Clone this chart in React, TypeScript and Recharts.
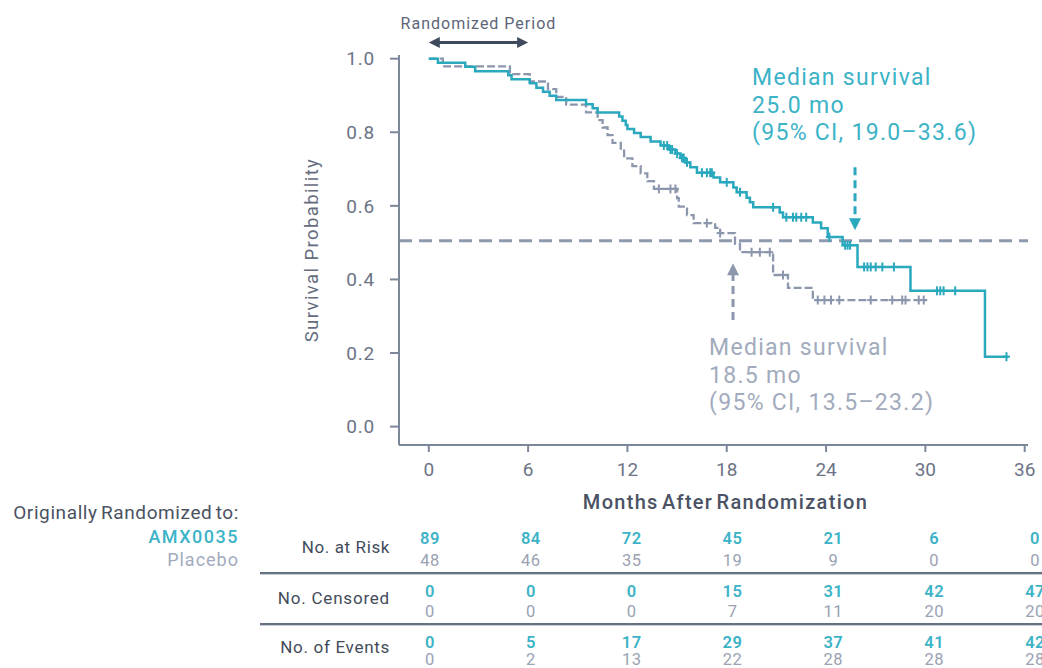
import React from 'react';
import { ComposedChart, Line, Scatter, XAxis, YAxis, ReferenceLine } from 'recharts';

// ---------- data ----------
const monthTicks = [0, 6, 12, 18, 24, 30, 36];
const survivalTicks = [0, 0.2, 0.4, 0.6, 0.8, 1.0];

// Kaplan-Meier steps [month, survival]
const amxSteps: [number, number][] = [
  [0, 1.0], [0.55, 0.989], [2.2, 0.978], [2.8, 0.966], [4.8, 0.955], [5.0, 0.944],
  [6.1, 0.933], [6.5, 0.921], [6.9, 0.91], [7.3, 0.899], [7.7, 0.888], [9.5, 0.876],
  [9.9, 0.865], [10.2, 0.854], [11.5, 0.843], [11.7, 0.831], [11.9, 0.82], [12.0, 0.809],
  [12.4, 0.798], [12.8, 0.787], [13.4, 0.775], [14.0, 0.764], [14.5, 0.753], [14.9, 0.742],
  [15.2, 0.73], [15.5, 0.718], [15.8, 0.705], [16.2, 0.69], [17.2, 0.677], [17.6, 0.664],
  [18.4, 0.65], [18.6, 0.637], [19.2, 0.622], [19.4, 0.61], [19.6, 0.596], [21.2, 0.582],
  [21.4, 0.569], [23.2, 0.555], [23.7, 0.539], [24.1, 0.515], [25.0, 0.493], [25.9, 0.434],
  [29.1, 0.369], [33.6, 0.19], [35.0, 0.19],
];
const placeboSteps: [number, number][] = [
  [0, 1.0], [0.85, 0.979], [4.9, 0.958], [6.1, 0.938], [7.2, 0.917], [7.7, 0.896],
  [8.3, 0.875], [9.5, 0.854], [10.2, 0.833], [10.5, 0.813], [10.8, 0.792], [11.1, 0.771],
  [11.6, 0.75], [11.8, 0.729], [12.3, 0.708], [12.8, 0.688], [13.2, 0.667], [13.6, 0.646],
  [15.0, 0.621], [15.1, 0.598], [15.6, 0.575], [16.0, 0.553], [17.3, 0.54], [17.6, 0.526],
  [18.5, 0.497], [18.8, 0.474], [20.8, 0.412], [21.7, 0.377], [23.2, 0.344], [30.1, 0.344],
];
// censoring times (months)
const amxCensored = [
  14.2, 14.4, 14.6, 14.7, 15.0, 15.3, 15.4, 15.6, 16.5, 16.8, 17.0, 17.1, 18.0, 18.8,
  20.8, 21.6, 22.0, 22.2, 22.5, 22.8, 24.2, 25.15, 25.3, 25.45, 26.3, 26.5, 26.7, 27.0,
  27.4, 28.1, 30.7, 30.9, 31.1, 31.8, 34.9,
];
const placeboCensored = [
  13.9, 14.6, 14.9, 16.8, 17.6, 19.5, 20.0, 20.6, 21.4, 23.5, 23.9, 24.3, 24.8, 26.7,
  28.0, 28.6, 28.8, 29.6, 29.9,
];

const medianLevel = 0.505;
const amxMedianArrowMonth = 25.75;
const placeboMedianArrowMonth = 18.38;

// table
const atRiskAmx = [89, 84, 72, 45, 21, 6, 0];
const atRiskPlacebo = [48, 46, 35, 19, 9, 0, 0];
const censoredAmx = [0, 0, 0, 15, 31, 42, 47];
const censoredPlacebo = [0, 0, 0, 7, 11, 20, 20];
const eventsAmx = [0, 5, 17, 29, 37, 41, 42];
const eventsPlacebo = [0, 2, 13, 22, 28, 28, 28];

// ---------- helpers ----------
const toPoints = (steps: [number, number][]) => steps.map(([t, s]) => ({ t, s }));
const survivalAt = (steps: [number, number][], t: number) => {
  let s = steps[0][1];
  for (const [tt, ss] of steps) if (tt <= t) s = ss;
  return s;
};
const censorPoints = (times: number[], steps: [number, number][]) =>
  times.map((t) => ({ t, s: survivalAt(steps, t) }));

const tableRows = monthTicks.map((t, i) => ({
  t,
  atRiskAmx: atRiskAmx[i], atRiskPlacebo: atRiskPlacebo[i],
  censoredAmx: censoredAmx[i], censoredPlacebo: censoredPlacebo[i],
  eventsAmx: eventsAmx[i], eventsPlacebo: eventsPlacebo[i],
}));

const TEAL = '#2aa8be';
const TEAL_TEXT = '#3cb3c7';
const GRAY_LINE = '#8c96ac';
const GRAY_TEXT = '#a2abbd';
const AXIS = '#7d879a';
const TICK_TEXT = '#6c7486';
const DARK = '#434b5b';
const FONT = 'Roboto, "Noto Sans", sans-serif';

const CensorMark = (color: string) => (props: any) => {
  const { cx, cy } = props;
  if (cx == null || cy == null) return <g />;
  return (
    <g>
      <line x1={cx} x2={cx} y1={cy - 4.5} y2={cy + 4.5} stroke={color} strokeWidth={2} />
      <line x1={cx - 3.5} x2={cx + 3.5} y1={cy} y2={cy} stroke={color} strokeWidth={2} />
    </g>
  );
};

const TableTick = (values: number[], color: string, weight: number) => (props: any) => {
  const { x, y, payload } = props;
  const i = monthTicks.indexOf(payload.value);
  return (
    <text x={x} y={y} dy="0.71em" textAnchor="middle" fill={color} fontSize={16.5}
      fontWeight={weight} fontFamily={FONT} letterSpacing={0.5}>
      {i >= 0 ? values[i] : ''}
    </text>
  );
};

const PeriodArrow = (props: any) => {
  const { x1, y1, x2 } = props;
  const y = y1;
  return (
    <g>
      <line x1={x1 + 6} x2={x2 - 6} y1={y} y2={y} stroke="#3f4a5c" strokeWidth={3} />
      <polygon points={`${x1},${y} ${x1 + 11},${y - 5.5} ${x1 + 11},${y + 5.5}`} fill="#3f4a5c" />
      <polygon points={`${x2},${y} ${x2 - 11},${y - 5.5} ${x2 - 11},${y + 5.5}`} fill="#3f4a5c" />
      <text x={(x1 + x2) / 2} y={y - 13} textAnchor="middle" fill="#5d6577" fontSize={16}
        fontFamily={FONT} letterSpacing={1}>Randomized Period</text>
    </g>
  );
};

const MedianArrow = (color: string) => (props: any) => {
  const { x1, y1, x2, y2 } = props;
  const dir = y2 > y1 ? 1 : -1;
  return (
    <g>
      <line x1={x1} x2={x2} y1={y1} y2={y2 - dir * 10} stroke={color} strokeWidth={3}
        strokeDasharray="8 5" />
      <polygon points={`${x2},${y2} ${x2 - 6},${y2 - dir * 12} ${x2 + 6},${y2 - dir * 12}`} fill={color} />
    </g>
  );
};

const MonthsLabel = (props: any) => {
  const { x, y, width } = props.viewBox;
  return (
    <text x={x + width / 2 + 12} y={y + 64} textAnchor="middle" fill="#4a5264" fontSize={20}
      fontWeight={500} fontFamily={FONT} letterSpacing={1.3} wordSpacing={-3}>Months After Randomization</text>
  );
};

const tableDomain: [number, number] = [-1.845, 35.58];
const tableAxes: { id: string; values: number[]; color: string; weight: number; height: number }[] = [
  { id: 'r1', values: atRiskAmx, color: TEAL_TEXT, weight: 600, height: 22 },
  { id: 'r2', values: atRiskPlacebo, color: '#9aa2b3', weight: 400, height: 31 },
  { id: 'r3', values: censoredAmx, color: TEAL_TEXT, weight: 600, height: 20 },
  { id: 'r4', values: censoredPlacebo, color: '#9aa2b3', weight: 400, height: 31 },
  { id: 'r5', values: eventsAmx, color: TEAL_TEXT, weight: 600, height: 17 },
  { id: 'r6', values: eventsPlacebo, color: '#9aa2b3', weight: 400, height: 15 },
];

const abs = (style: React.CSSProperties): React.CSSProperties => ({
  position: 'absolute', fontFamily: FONT, whiteSpace: 'nowrap', ...style,
});

export default function App() {
  return (
    <div style={{ position: 'absolute', left: 0, top: 0, width: 1042, height: 668, background: '#fff', overflow: 'hidden' }}>
      <ComposedChart width={1042} height={668} data={tableRows}
        margin={{ top: 55, right: 14, bottom: 0, left: 0 }}>
        <XAxis xAxisId="main" dataKey="t" type="number" domain={[-1.8, 36.2]} allowDataOverflow
          ticks={monthTicks} interval={0} height={87} tickSize={7} tickMargin={11}
          axisLine={{ stroke: AXIS, strokeWidth: 2 }} tickLine={{ stroke: AXIS, strokeWidth: 2 }}
          tick={{ fill: TICK_TEXT, fontSize: 19, fontFamily: FONT }}
          label={{ content: MonthsLabel }} />
        {tableAxes.map((a) => (
          <XAxis key={a.id} xAxisId={a.id} dataKey="t" type="number" domain={tableDomain} allowDataOverflow
            ticks={monthTicks} interval={0} height={a.height} tickSize={0} tickMargin={0}
            axisLine={false} tickLine={false} tick={TableTick(a.values, a.color, a.weight)} />
        ))}
        <YAxis dataKey="s" type="number" domain={[-0.05, 1.01]} allowDataOverflow ticks={survivalTicks}
          interval={0} width={399} tickSize={9} tickMargin={15}
          tickFormatter={(v: number) => v.toFixed(1)}
          axisLine={{ stroke: AXIS, strokeWidth: 2 }} tickLine={{ stroke: AXIS, strokeWidth: 2 }}
          tick={{ fill: TICK_TEXT, fontSize: 19, fontFamily: FONT, letterSpacing: 0.8 }}
          label={{ value: 'Survival Probability', angle: -90, position: 'insideLeft', offset: 311,
            fill: '#646c7e', fontSize: 18.5, fontFamily: FONT, letterSpacing: 1.4,
            style: { textAnchor: 'middle' } }} />

        <ReferenceLine xAxisId="main" y={medianLevel} stroke="#8e99ae" strokeWidth={3}
          strokeDasharray="13 7" />

        <Line xAxisId="main" data={toPoints(placeboSteps)} dataKey="s" type="stepAfter"
          stroke={GRAY_LINE} strokeWidth={2.3} strokeDasharray="8 3" dot={false}
          isAnimationActive={false} />
        <Line xAxisId="main" data={toPoints(amxSteps)} dataKey="s" type="stepAfter"
          stroke={TEAL} strokeWidth={2.5} dot={false} isAnimationActive={false} />
        <Scatter xAxisId="main" data={censorPoints(placeboCensored, placeboSteps)} dataKey="s"
          shape={CensorMark(GRAY_LINE)} isAnimationActive={false} />
        <Scatter xAxisId="main" data={censorPoints(amxCensored, amxSteps)} dataKey="s"
          shape={CensorMark(TEAL)} isAnimationActive={false} />

        <ReferenceLine xAxisId="main" segment={[{ x: 0, y: 1.044 }, { x: 6, y: 1.044 }]}
          ifOverflow="visible" shape={PeriodArrow} />
        <ReferenceLine xAxisId="main"
          segment={[{ x: amxMedianArrowMonth, y: 0.705 }, { x: amxMedianArrowMonth, y: 0.534 }]}
          shape={MedianArrow(TEAL)} />
        <ReferenceLine xAxisId="main"
          segment={[{ x: placeboMedianArrowMonth, y: 0.29 }, { x: placeboMedianArrowMonth, y: 0.444 }]}
          shape={MedianArrow(GRAY_LINE)} />
      </ComposedChart>

      {/* keep the area right of the axis end clean */}
      <div style={{ position: 'absolute', left: 1029, top: 441, width: 13, height: 8, background: '#fff' }} />

      {/* median annotations */}
      <div style={abs({ left: 752, top: 64, color: TEAL_TEXT, fontSize: 23, lineHeight: '27.5px', letterSpacing: 1.3 })}>
        Median survival<br />25.0 mo<br />(95% CI, 19.0–33.6)
      </div>
      <div style={abs({ left: 709, top: 334, color: GRAY_TEXT, fontSize: 23, lineHeight: '27.5px', letterSpacing: 1.3 })}>
        Median survival<br />18.5 mo<br />(95% CI, 13.5–23.2)
      </div>

      {/* table legend */}
      <div style={abs({ right: 1042 - 239, top: 501, color: '#4a5262', fontSize: 19, lineHeight: '24px', letterSpacing: 0.6, wordSpacing: -2 })}>
        Originally Randomized to:
      </div>
      <div style={abs({ right: 1042 - 239, top: 526, color: TEAL_TEXT, fontSize: 18, lineHeight: '22px', fontWeight: 500, letterSpacing: 1.5 })}>
        AMX0035
      </div>
      <div style={abs({ right: 1042 - 239, top: 549, color: GRAY_TEXT, fontSize: 18, lineHeight: '22px', letterSpacing: 1 })}>
        Placebo
      </div>

      <div style={abs({ right: 1042 - 390, top: 536, color: DARK, fontSize: 17, lineHeight: '22px', letterSpacing: 0.6 })}>No. at Risk</div>
      <div style={abs({ right: 1042 - 390, top: 587, color: DARK, fontSize: 17, lineHeight: '22px', letterSpacing: 0.8 })}>No. Censored</div>
      <div style={abs({ right: 1042 - 390, top: 636, color: DARK, fontSize: 17, lineHeight: '22px', letterSpacing: 0.7 })}>No. of Events</div>

      <div style={abs({ left: 260, right: 0, top: 572, height: 0, borderTop: '2px solid #667083', borderBottom: '1px solid #c9cdd5' })} />
      <div style={abs({ left: 260, right: 0, top: 623, height: 0, borderTop: '2px solid #667083', borderBottom: '1px solid #c9cdd5' })} />
    </div>
  );
}
